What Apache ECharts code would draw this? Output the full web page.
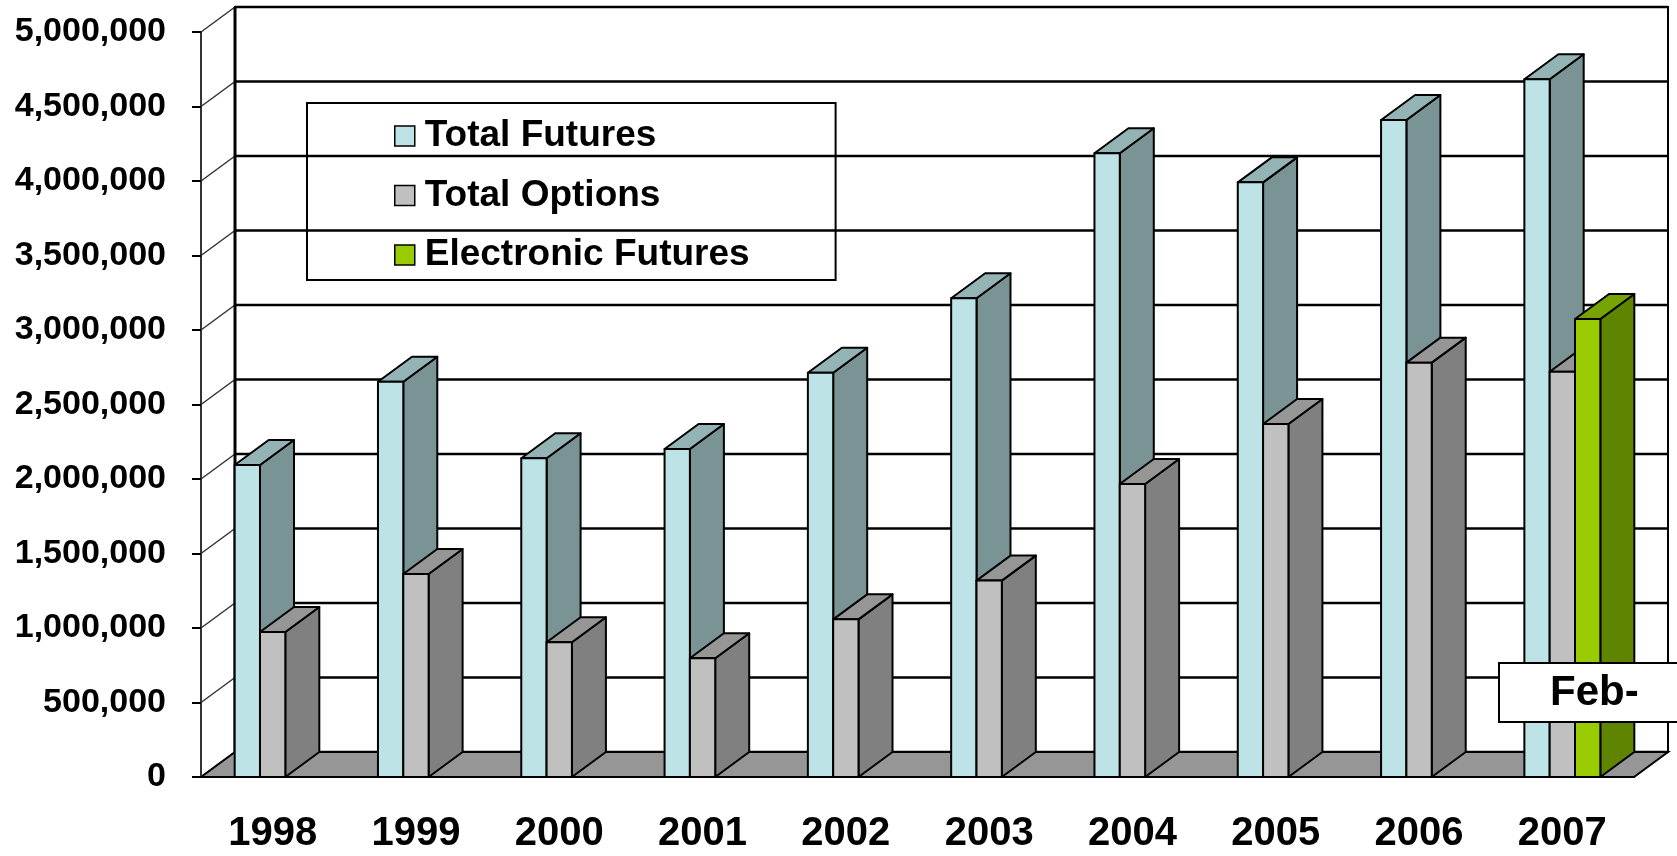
<!DOCTYPE html>
<html><head><meta charset="utf-8">
<script src="https://cdn.jsdelivr.net/npm/echarts@6/dist/echarts.min.js"></script>
<style>html,body{margin:0;padding:0;background:#fff}#c{width:1677px;height:856px}</style>
</head><body><div id="c"></div>
<script>
// ---- data ----
const years = ['1998','1999','2000','2001','2002','2003','2004','2005','2006','2007'];
const totalFutures = [2094000, 2653000, 2139000, 2201000, 2713000, 3213000, 4186000, 3991000, 4409000, 4683000];
const totalOptions = [973000, 1362000, 904000, 797000, 1058000, 1318000, 1966000, 2369000, 2781000, 2720000];
const electronicFutures = [null, null, null, null, null, null, null, null, null, 3074000];
const yTicks = [0, 500000, 1000000, 1500000, 2000000, 2500000, 3000000, 3500000, 4000000, 4500000, 5000000];
const seriesNames = ['Total Futures', 'Total Options', 'Electronic Futures'];
const noteText = 'Feb-';

// ---- style ----
const FONT = '"Liberation Sans", Arial, sans-serif';
const DX = 34, DY = -25;          // 3D depth offset in px
const BAR_FRAC = 0.1767;          // bar width as fraction of category band
const palette = {
  'Total Futures':      {front:'#BDE3E6', side:'#7A9394', top:'#94B3B5'},
  'Total Options':      {front:'#C0C0C0', side:'#808080', top:'#969696'},
  'Electronic Futures': {front:'#99CC00', side:'#5F8500', top:'#77A300'}
};

function barRender(slot, colors) {
  return function (params, api) {
    const i = api.value(0), v = api.value(1);
    if (v == null || isNaN(v)) return;
    const base = api.coord([i, 0]);
    const topP = api.coord([i, v]);
    const band = api.size([1, 0])[0];
    const bw = band * BAR_FRAC;
    const x0 = base[0] - 1.5 * bw + slot * bw;
    const x1 = x0 + bw;
    const yB = base[1], yT = topP[1];
    const st = {stroke:'#000', lineWidth:2, lineJoin:'round'};
    return {type:'group', children:[
      {type:'polygon', shape:{points:[[x1,yT],[x1+DX,yT+DY],[x1+DX,yB+DY],[x1,yB]]}, style:Object.assign({fill:colors.side}, st)},
      {type:'polygon', shape:{points:[[x0,yT],[x0+DX,yT+DY],[x1+DX,yT+DY],[x1,yT]]}, style:Object.assign({fill:colors.top}, st)},
      {type:'rect', shape:{x:x0, y:yT, width:bw, height:yB-yT}, style:Object.assign({fill:colors.front}, st)}
    ]};
  };
}

function frameRender(params, api) {
  const cs = params.coordSys;
  const L = cs.x, R = cs.x + cs.width, T = cs.y, B = cs.y + cs.height;
  const y = api.coord([0, api.value(1)])[1];
  const children = [];
  if (params.dataIndex === 0) {
    children.push({type:'rect', shape:{x:L+DX, y:T+DY, width:R-L, height:B-T}, style:{fill:'#fff', stroke:'#000', lineWidth:2}});
  }
  children.push({type:'line', shape:{x1:L+DX, y1:y+DY, x2:R+DX, y2:y+DY}, style:{stroke:'#000', lineWidth:2.5}});
  children.push({type:'line', shape:{x1:L, y1:y, x2:L+DX, y2:y+DY}, style:{stroke:'#333', lineWidth:1.5}});
  if (params.dataIndex === yTicks.length - 1) {
    children.push({type:'line', shape:{x1:L+DX, y1:T+DY, x2:L+DX, y2:B+DY}, style:{stroke:'#000', lineWidth:3}});
    children.push({type:'line', shape:{x1:R+DX, y1:T+DY, x2:R+DX, y2:B+DY}, style:{stroke:'#000', lineWidth:2}});
  }
  return {type:'group', children};
}

function floorRender(params, api) {
  const cs = params.coordSys;
  const L = cs.x, R = cs.x + cs.width, B = cs.y + cs.height;
  return {type:'polygon', shape:{points:[[L,B],[R,B],[R+DX,B+DY],[L+DX,B+DY]]}, style:{fill:'#969696', stroke:'#000', lineWidth:2}};
}

const barArrays = [totalFutures, totalOptions, electronicFutures];
const barSeries = seriesNames.map((name, k) => ({
  name, type:'custom', coordinateSystem:'cartesian2d', z:3,
  itemStyle:{color:palette[name].front},
  encode:{x:0, y:1},
  renderItem: barRender(k, palette[name]),
  data: barArrays[k].map((v, i) => [i, v]).filter(d => d[1] != null)
}));

const chart = echarts.init(document.getElementById('c'), null, {renderer:'canvas'});
chart.setOption({
  backgroundColor:'#fff',
  animation:false,
  grid:{left:201, right:43, top:32, bottom:79},
  xAxis:{
    type:'category', data:years, boundaryGap:true, z:5,
    axisLine:{lineStyle:{color:'#000', width:2}},
    axisTick:{length:11, lineStyle:{color:'#000', width:2}},
    axisLabel:{fontSize:40, fontWeight:'bold', color:'#000', fontFamily:FONT, margin:37},
    splitLine:{show:false}
  },
  yAxis:{
    type:'value', min:0, max:5000000, interval:500000, z:5,
    axisLine:{show:true, lineStyle:{color:'#333', width:2}},
    axisTick:{show:true, length:9, lineStyle:{color:'#000', width:2}},
    axisLabel:{fontSize:34, fontWeight:'bold', color:'#000', fontFamily:FONT, margin:35,
      formatter: v => v.toLocaleString('en-US')},
    splitLine:{show:false}
  },
  legend:{
    orient:'vertical', left:307, top:103,
    padding:[13, 86, 5, 87],
    itemWidth:20, itemHeight:20, itemGap:19.5,
    borderColor:'#000', borderWidth:2, backgroundColor:'transparent',
    selectedMode:false,
    textStyle:{fontSize:37, fontWeight:'bold', color:'#000', fontFamily:FONT, lineHeight:40, padding:[0,0,0,5]},
    data: seriesNames.map(n => ({name:n, icon:'rect', itemStyle:{color:palette[n].front, borderColor:'#000', borderWidth:1.5}}))
  },
  series:[
    {name:'frame', type:'custom', coordinateSystem:'cartesian2d', z:1, silent:true,
      encode:{x:0, y:1}, renderItem: frameRender, data: yTicks.map(v => [0, v])},
    {name:'floor', type:'custom', coordinateSystem:'cartesian2d', z:2, silent:true,
      encode:{x:0, y:1}, renderItem: floorRender, data: [[0, 0]]}
  ].concat(barSeries),
  graphic:{elements:[
    {type:'rect', z:100, zlevel:0, shape:{x:1499, y:663, width:200, height:59}, style:{fill:'#fff', stroke:'#000', lineWidth:2}},
    {type:'text', z:101, zlevel:0, x:1550, y:693, style:{text:noteText, font:'bold 42px ' + FONT, verticalAlign:'middle', fill:'#000'}}
  ]}
});
</script></body></html>
